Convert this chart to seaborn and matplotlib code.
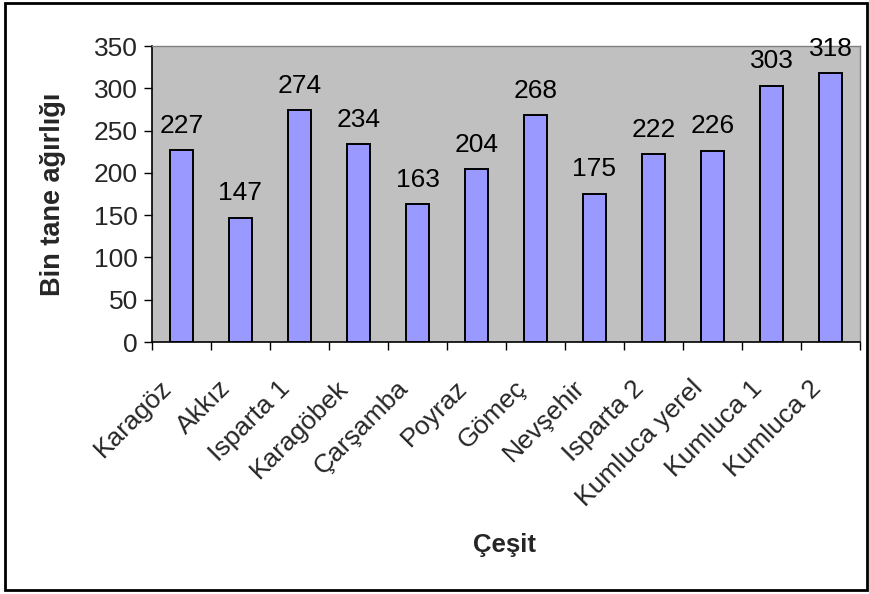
import matplotlib
matplotlib.use("Agg")
import matplotlib.pyplot as plt
from matplotlib.patches import Rectangle
from matplotlib.ticker import FixedLocator
from matplotlib.transforms import ScaledTranslation
import seaborn as sns
import pandas as pd

# Cultivars and their thousand-grain weights
cesitler = ["Karagöz", "Akkız", "Isparta 1", "Karagöbek", "Çarşamba", "Poyraz",
            "Gömeç", "Nevşehir", "Isparta 2", "Kumluca yerel", "Kumluca 1", "Kumluca 2"]
agirlik = [227, 147, 274, 234, 163, 204, 268, 175, 222, 226, 303, 318]
y_ticks = [0, 50, 100, 150, 200, 250, 300, 350]

df = pd.DataFrame({"Çeşit": cesitler, "Bin tane ağırlığı": agirlik})

sns.set_theme(style="white")
plt.rcParams["font.family"] = ["Liberation Sans", "DejaVu Sans"]

W, H = 870, 594
L, R, T, B = 152, 860, 46, 342

fig = plt.figure(figsize=(W / 100, H / 100), dpi=100)
ax = fig.add_axes([L / W, 1 - B / H, (R - L) / W, (B - T) / H])
ax.set_facecolor("#C0C0C0")

sns.barplot(data=df, x="Çeşit", y="Bin tane ağırlığı", ax=ax, color="#9999FF",
            saturation=1, width=0.4, edgecolor="black", linewidth=1.4)

ax.set_xlim(-0.5, len(cesitler) - 0.5)
ax.set_ylim(0, 350)
ax.set_yticks(y_ticks)
ax.tick_params(axis="y", labelsize=19, length=6, width=1, color="black",
               left=True, pad=4)

# category labels at bar centres, tick marks on the category boundaries
ax.set_xticks(range(len(cesitler)))
ax.set_xticklabels(cesitler, rotation=45, ha="right", rotation_mode="anchor",
                   fontsize=19)
ax.tick_params(axis="x", which="major", length=0, pad=10)
ax.xaxis.set_minor_locator(FixedLocator([i - 0.5 for i in range(len(cesitler) + 1)]))
ax.tick_params(axis="x", which="minor", length=6, width=1, color="black", bottom=True)
shift = ScaledTranslation(-0.22, -0.20, fig.dpi_scale_trans)
for lbl in ax.get_xticklabels():
    lbl.set_transform(lbl.get_transform() + shift)

for side in ["top", "right"]:
    ax.spines[side].set_color("#808080")
    ax.spines[side].set_linewidth(1)
for side in ["left", "bottom"]:
    ax.spines[side].set_color("black")
    ax.spines[side].set_linewidth(1.2)

for i, v in enumerate(agirlik):
    ax.annotate(str(v), (i, v), xytext=(0, 9), textcoords="offset points",
                ha="center", va="bottom", fontsize=19, color="black")

ax.set_ylabel("Bin tane ağırlığı", fontsize=19.5, fontweight="bold")
ax.yaxis.set_label_coords((53 - L) / (R - L), 0.5)
ax.set_xlabel("Çeşit", fontsize=18.5, fontweight="bold")
ax.xaxis.set_label_coords((505 - L) / (R - L), (B - 545) / (B - T))
ax.xaxis.label.set_va("center")
ax.yaxis.label.set_va("center")

# outer frame around the whole chart
fig.patches.append(Rectangle((5 / W, 1 - 590 / H), 862 / W, 587 / H,
                             transform=fig.transFigure, fill=False,
                             edgecolor="black", linewidth=2))

fig.savefig("out.png", dpi=100)
